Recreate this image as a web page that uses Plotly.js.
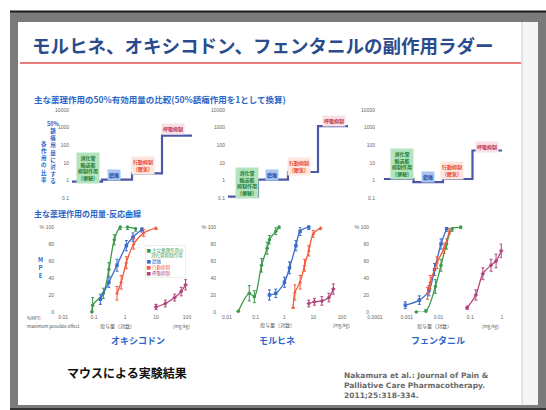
<!DOCTYPE html>
<html><head><meta charset="utf-8">
<script src="https://cdn.plot.ly/plotly-3.0.1.min.js"></script>
<style>html,body{margin:0;padding:0;background:#fff}#chart{width:546px;height:410px}</style>
</head><body><div id="chart"></div>
<script>
// ---------- Ladder data: dose ratio relative to 50% analgesic dose ----------
const ladderSteps = ['消化管輸送能抑制作用', '鎮痛', '行動抑制', '呼吸抑制'];
const ladderOxy = [0.85, 1.1, 2.5, 350];
const ladderMor = [0.12, 1.1, 3, 1200];
const ladderFen = [1.2, 0.8, 1.2, 50];
const ladderTickVals = [0.1, 1, 10, 100, 1000, 10000];
const ladderTickText = ['0.1', '1', '10', '100', '1000', '10000'];

// ---------- Dose-response data (%MPE) ----------
// Oxycodone
const oxyGiDose = [0.085, 0.09, 0.2, 0.3, 0.45, 0.7, 1.2, 2.2];
const oxyGiMpe  = [0, 8, 22, 50, 85, 100, 100, 98];
const oxyGiErr  = [0, 9, 6, 8, 6, 3, 3, 3];
const oxyAnDose = [0.16, 0.3, 0.55, 1.1, 1.8, 3.5];
const oxyAnMpe  = [15, 35, 55, 78, 88, 97];
const oxyAnErr  = [6, 6, 7, 6, 5, 3];
const oxyBeDose = [0.55, 0.75, 1.1, 1.9, 4, 10];
const oxyBeMpe  = [22, 35, 58, 80, 93, 99];
const oxyBeErr  = [8, 8, 7, 6, 4, 2];
const oxyReDose = [10, 20, 40, 65, 90];
const oxyReMpe  = [6, 10, 17, 24, 32];
const oxyReErr  = [3, 4, 4, 5, 6];
// Morphine
const morGiDose = [0.025, 0.06, 0.09, 0.16, 0.25, 0.3, 0.5, 0.65];
const morGiMpe  = [1, 22, 18, 55, 75, 85, 95, 100];
const morGiErr  = [0, 9, 7, 8, 7, 5, 4, 2];
const morAnDose = [0.3, 0.5, 1, 1.5, 2.5, 3.5, 7];
const morAnMpe  = [20, 22, 35, 52, 78, 95, 100];
const morAnErr  = [6, 5, 6, 7, 6, 5, 3];
const morBeDose = [2, 2.3, 3.5, 5, 7, 10, 18];
const morBeMpe  = [5, 23, 35, 55, 72, 92, 99];
const morBeErr  = [0, 9, 8, 7, 6, 4, 2];
const morReDose = [7, 11, 20, 35, 50];
const morReMpe  = [10, 12, 13, 17, 27];
const morReErr  = [4, 4, 5, 5, 6];
// Fentanyl
const fenGiDose = [0.002, 0.004, 0.008, 0.012, 0.018, 0.027, 0.05];
const fenGiMpe  = [0, 1, 30, 55, 80, 98, 100];
const fenGiErr  = [0, 2, 8, 7, 6, 3, 2];
const fenAnDose = [0.0009, 0.0025, 0.005, 0.0075, 0.012, 0.018];
const fenAnMpe  = [8, 14, 25, 50, 80, 98];
const fenAnErr  = [4, 5, 6, 7, 6, 3];
const fenBeDose = [0.0045, 0.0055, 0.009, 0.015, 0.022];
const fenBeMpe  = [22, 35, 58, 75, 95];
const fenBeErr  = [7, 8, 7, 6, 3];
const fenReDose = [0.08, 0.15, 0.25, 0.45, 0.65, 0.95];
const fenReMpe  = [5, 20, 45, 55, 60, 72];
const fenReErr  = [2, 6, 7, 7, 8, 8];

const drTicksA = [0.01, 0.1, 1, 10, 100];
const drTicksAText = ['0.01', '0.1', '1', '10', '100'];
const drTicksB = [0.0001, 0.001, 0.01, 0.1, 1];
const drTicksBText = ['0.0001', '0.001', '0.01', '0.1', '1'];
const mpeTicks = [0, 20, 40, 60, 80, 100];
const mpeTickText = ['0', '20', '40', '60', '80', '%·100'];

// ---------- helpers ----------
const W = 546, H = 410;
const px = x => x / W;
const py = y => 1 - y / H;
const FONT = '"Noto Sans CJK JP", "Noto Sans", sans-serif';
const C = {green: '#3a9a4c', blue: '#3b6cc9', red: '#f0593a', purple: '#b2457e', step: '#4c57a8'};

function stepTrace(vals, ax) {
  const xs = vals.map((_, i) => i).concat([vals.length]);
  const ys = vals.concat([vals[vals.length - 1]]);
  return {x: xs, y: ys, xaxis: 'x' + ax, yaxis: 'y' + ax, type: 'scatter', mode: 'lines',
    line: {shape: 'hv', color: C.step, width: 2.2}, showlegend: false, hoverinfo: 'skip'};
}
function drTrace(d, m, e, color, sym, ax) {
  return {x: d, y: m, xaxis: 'x' + ax, yaxis: 'y' + ax, type: 'scatter', mode: 'lines+markers',
    line: {shape: 'spline', smoothing: 0.9, color: color, width: 1.3},
    marker: {color: color, size: 3.5, symbol: sym},
    error_y: {type: 'data', array: e, color: color, thickness: 1, width: 1.5},
    cliponaxis: false, showlegend: false, hoverinfo: 'skip'};
}

const data = [
  stepTrace(ladderOxy, ''), stepTrace(ladderMor, '2'), stepTrace(ladderFen, '3'),
  drTrace(oxyGiDose, oxyGiMpe, oxyGiErr, C.green, 'circle', '4'),
  drTrace(oxyAnDose, oxyAnMpe, oxyAnErr, C.blue, 'square', '4'),
  drTrace(oxyBeDose, oxyBeMpe, oxyBeErr, C.red, 'triangle-up', '4'),
  drTrace(oxyReDose, oxyReMpe, oxyReErr, C.purple, 'diamond', '4'),
  drTrace(morGiDose, morGiMpe, morGiErr, C.green, 'circle', '5'),
  drTrace(morAnDose, morAnMpe, morAnErr, C.blue, 'square', '5'),
  drTrace(morBeDose, morBeMpe, morBeErr, C.red, 'triangle-up', '5'),
  drTrace(morReDose, morReMpe, morReErr, C.purple, 'diamond', '5'),
  drTrace(fenGiDose, fenGiMpe, fenGiErr, C.green, 'circle', '6'),
  drTrace(fenAnDose, fenAnMpe, fenAnErr, C.blue, 'square', '6'),
  drTrace(fenBeDose, fenBeMpe, fenBeErr, C.red, 'triangle-up', '6'),
  drTrace(fenReDose, fenReMpe, fenReErr, C.purple, 'diamond', '6')
];

const tickFont = {family: '"Liberation Sans", sans-serif', size: 5, color: '#666'};
function ladderX(x0, x1, r0) {
  return {domain: [px(x0), px(x1)], range: [r0, ladderSteps.length], visible: false, fixedrange: true};
}
function ladderY() {
  return {domain: [py(198), py(110)], type: 'log', range: [-1, 4], tickmode: 'array',
    tickvals: ladderTickVals, ticktext: ladderTickText, tickfont: tickFont, showgrid: false,
    zeroline: false, showline: false, ticks: '', ticklabelstandoff: 2, fixedrange: true};
}
function drX(x0, x1, range, tv, tt) {
  return {domain: [px(x0), px(x1)], type: 'log', range: range, tickmode: 'array', tickvals: tv,
    ticktext: tt, tickfont: tickFont, showgrid: false, zeroline: false, showline: false, ticks: '',
    ticklabelstandoff: 1, fixedrange: true};
}
function drY() {
  return {domain: [py(312), py(227)], range: [0, 100], tickmode: 'array', tickvals: mpeTicks,
    ticktext: mpeTickText, tickfont: tickFont, showgrid: false, zeroline: false, showline: false,
    ticks: '', ticklabelstandoff: 5, fixedrange: true};
}

function ann(x, y, text, opts) {
  return Object.assign({xref: 'paper', yref: 'paper', x: px(x), y: py(y), text: text, showarrow: false,
    xanchor: 'center', yanchor: 'middle', font: {family: FONT, size: 5, color: '#333'}}, opts || {});
}
const giLabel = '<b>消化管<br>輸送能<br>抑制作用<br>(便秘)</b>';
const anLabel = '<b>鎮痛</b>';
const beLabel = '<b>行動抑制<br>(眠気)</b>';
const reLabel = '<b>呼吸抑制</b>';
function ladderLabels(pos) {
  return [
    ann(pos[0][0], pos[0][1], giLabel, {font: {family: FONT, size: 5, color: '#1c7a34'}, bgcolor: '#b3e4bd', borderpad: 1}),
    ann(pos[1][0], pos[1][1], anLabel, {font: {family: FONT, size: 5, color: '#1f4fb0'}, bgcolor: '#a9c6f0', borderpad: 1}),
    ann(pos[2][0], pos[2][1], beLabel, {font: {family: FONT, size: 5, color: '#e8452c'}, bgcolor: '#fde6de', borderpad: 1}),
    ann(pos[3][0], pos[3][1], reLabel, {font: {family: FONT, size: 5, color: '#c0304a'}, bgcolor: '#f9e0e6', borderpad: 1})
  ];
}
const vert = s => Array.from(s).join('<br>');
const blueT = '#2c66c8';

const annotations = [
  ann(30, 45, '<b>モルヒネ、オキシコドン、フェンタニルの副作用ラダー</b>',
    {xanchor: 'left', font: {family: FONT, size: 18.5, color: '#2b4c8c'}}),
  ann(32, 99, '<b>主な薬理作用の50%有効用量の比較(50%鎮痛作用を1として換算)</b>',
    {xanchor: 'left', font: {family: FONT, size: 8.5, color: blueT}}),
  ann(53, 152, '<b>50%<br>' + vert('鎮痛用量に対する') + '</b>', {font: {family: FONT, size: 5.5, color: blueT}}),
  ann(44, 162, '<b>' + vert('各作用の比率') + '</b>', {font: {family: FONT, size: 5.5, color: blueT}}),
  ...ladderLabels([[88, 168], [114, 175], [143, 165], [173, 129]]),
  ...ladderLabels([[247, 183], [272, 175], [299, 167], [334, 121]]),
  ...ladderLabels([[402, 164], [428, 177], [452, 171], [487, 147]]),
  ann(32, 213, '<b>主な薬理作用の用量-反応曲線</b>', {xanchor: 'left', font: {family: FONT, size: 8, color: blueT}}),
  ann(40, 267, '<b>M<br>P<br>E</b>', {font: {family: FONT, size: 6, color: blueT}}),
  ann(25, 318, '%MPE:', {xanchor: 'left', font: {family: FONT, size: 4.5, color: '#555'}}),
  ann(25, 326, 'maximum possible effect', {xanchor: 'left', font: {family: FONT, size: 4.5, color: '#555'}}),
  ann(117, 326, '投与量（対数）', {font: {family: FONT, size: 5, color: '#555'}}),
  ann(277, 325, '投与量（対数）', {font: {family: FONT, size: 5, color: '#555'}}),
  ann(434, 326, '投与量（対数）', {font: {family: FONT, size: 5, color: '#555'}}),
  ann(181, 326, '[mg/kg]', {font: {family: FONT, size: 4.5, color: '#555'}}),
  ann(341, 325, '[mg/kg]', {font: {family: FONT, size: 4.5, color: '#555'}}),
  ann(490, 326, '[mg/kg]', {font: {family: FONT, size: 4.5, color: '#555'}}),
  ann(165, 261,
    '<span style="color:' + C.green + '">■ 主な薬理作用の<br>　消化管抑制作用</span><br>' +
    '<span style="color:' + C.blue + '">■ 鎮痛</span><br>' +
    '<span style="color:' + C.red + '">■ 行動抑制</span><br>' +
    '<span style="color:' + C.purple + '">■ 呼吸抑制</span>',
    {align: 'left', font: {family: FONT, size: 4.5, color: '#333'}, bgcolor: 'rgba(255,255,255,0.9)', bordercolor: '#cfe6d3', borderwidth: 0.5, borderpad: 1}),
  ann(138, 340, '<b>オキシコドン</b>', {font: {family: FONT, size: 9, color: blueT}}),
  ann(277, 340, '<b>モルヒネ</b>', {font: {family: FONT, size: 9, color: blueT}}),
  ann(438, 340, '<b>フェンタニル</b>', {font: {family: FONT, size: 9, color: blueT}}),
  ann(65, 372, '<b>マウスによる実験結果</b>', {xanchor: 'left', font: {family: FONT, size: 12, color: '#111'}}),
  ann(342, 385, '<b>Nakamura et al.: Journal of Pain &amp;<br>Palliative Care Pharmacotherapy.<br>2011;25:318-334.</b>',
    {xanchor: 'left', align: 'left', font: {family: '"DejaVu Sans", sans-serif', size: 7.5, color: '#6a6a6a'}})
];

const shapes = [
  {type: 'rect', xref: 'paper', yref: 'paper', x0: px(10), x1: 1, y0: 0, y1: py(11), fillcolor: '#7a7a7a', line: {width: 0}, layer: 'below'},
  {type: 'line', xref: 'paper', yref: 'paper', x0: px(10), x1: 1, y0: py(11.5), y1: py(11.5), line: {color: '#1a1a1a', width: 2}, layer: 'below'},
  {type: 'line', xref: 'paper', yref: 'paper', x0: px(10), x1: 1, y0: py(409), y1: py(409), line: {color: '#333', width: 2}, layer: 'below'},
  {type: 'rect', xref: 'paper', yref: 'paper', x0: px(18), x1: px(538), y0: py(405), y1: py(22), fillcolor: '#ffffff', line: {width: 0}, layer: 'below'},
  {type: 'rect', xref: 'paper', yref: 'paper', x0: px(522), x1: px(538), y0: py(405), y1: py(22), fillcolor: '#f4f5f7', line: {width: 0}, layer: 'below'},
  {type: 'line', xref: 'paper', yref: 'paper', x0: px(522), x1: px(522), y0: py(405), y1: py(22), line: {color: '#c6cbd6', width: 1}, layer: 'below'},
  {type: 'line', xref: 'paper', yref: 'paper', x0: px(20), x1: px(521), y0: py(63), y1: py(63), line: {color: '#e0504e', width: 1.5}, layer: 'below'}
];

const layout = {
  width: W, height: H, margin: {l: 0, r: 0, t: 0, b: 0},
  paper_bgcolor: '#ffffff', plot_bgcolor: 'rgba(0,0,0,0)',
  font: {family: FONT}, showlegend: false, hovermode: false,
  xaxis: ladderX(72, 192, 0), yaxis: ladderY(),
  xaxis2: ladderX(228, 348, 0), yaxis2: ladderY(),
  xaxis3: ladderX(378, 502, -0.2), yaxis3: ladderY(),
  xaxis4: drX(60, 187, [-2.1, 2], drTicksA, drTicksAText), yaxis4: drY(),
  xaxis5: drX(222, 342, [-2.17, 2], drTicksA, drTicksAText), yaxis5: drY(),
  xaxis6: drX(375, 502, [-4, 0], drTicksB, drTicksBText), yaxis6: drY(),
  annotations: annotations, shapes: shapes
};
layout.yaxis.anchor = 'x'; layout.yaxis2.anchor = 'x2'; layout.yaxis3.anchor = 'x3';
layout.yaxis4.anchor = 'x4'; layout.yaxis5.anchor = 'x5'; layout.yaxis6.anchor = 'x6';
layout.xaxis.anchor = 'y'; layout.xaxis2.anchor = 'y2'; layout.xaxis3.anchor = 'y3';
layout.xaxis4.anchor = 'y4'; layout.xaxis5.anchor = 'y5'; layout.xaxis6.anchor = 'y6';

Plotly.newPlot('chart', data, layout, {displayModeBar: false, staticPlot: true});
</script></body></html>
